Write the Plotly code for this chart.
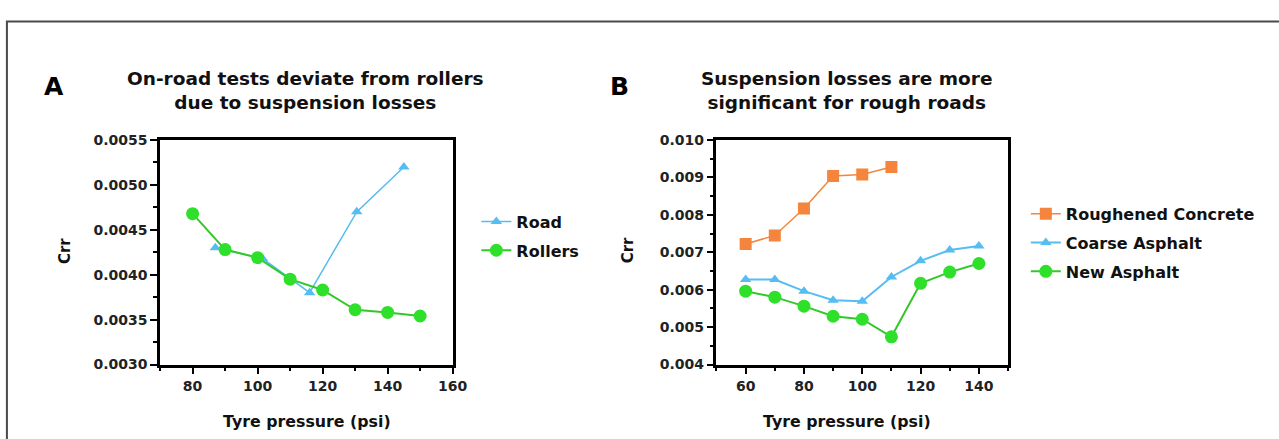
import plotly.graph_objects as go

# Panel A data
road_x = [87, 101.5, 116, 130.5, 145]
road_y = [0.0043, 0.00418, 0.0038, 0.0047, 0.0052]
rollers_x = [80, 90, 100, 110, 120, 130, 140, 150]
rollers_y = [0.00468, 0.00428, 0.00419, 0.00395, 0.00383, 0.00361, 0.00358, 0.00354]

# Panel B data
b_x = [60, 70, 80, 90, 100, 110, 120, 130, 140]
concrete_y = [0.00722, 0.00745, 0.00817, 0.00904, 0.00908, 0.00928]
coarse_y = [0.00627, 0.00627, 0.00596, 0.00572, 0.00569, 0.00634, 0.00677, 0.00706, 0.00717]
new_y = [0.00596, 0.0058, 0.00556, 0.00529, 0.00521, 0.00474, 0.00617, 0.00647, 0.0067]

titles = ["On-road tests deviate from rollers<br>due to suspension losses",
          "Suspension losses are more<br>significant for rough roads"]
panel_labels = ["A", "B"]
x_title = "Tyre pressure (psi)"
y_title = "Crr"

W, H = 1279, 439
FONT = "DejaVu Sans, Liberation Sans, Arial, sans-serif"
BLUE = "#55BDF2"
GREEN = "#2EE02A"
LINEGREEN = "#33C82A"
ORANGE = "#F5843C"


def px(x):
    return x / W


def py(y):
    return 1 - y / H


fig = go.Figure()

fig.add_trace(go.Scatter(x=road_x, y=road_y, name="Road", mode="lines+markers",
                         line=dict(color=BLUE, width=1.5),
                         marker=dict(symbol="triangle-up", size=10, color=BLUE),
                         xaxis="x", yaxis="y", legend="legend", legendgroup="a1"))
fig.add_trace(go.Scatter(x=rollers_x, y=rollers_y, name="Rollers", mode="lines+markers",
                         line=dict(color=LINEGREEN, width=2),
                         marker=dict(symbol="circle", size=13, color=GREEN),
                         xaxis="x", yaxis="y", legend="legend", legendgroup="a2"))

fig.add_trace(go.Scatter(x=b_x[:len(concrete_y)], y=concrete_y, name="Roughened Concrete",
                         mode="lines+markers", line=dict(color=ORANGE, width=1.5),
                         marker=dict(symbol="square", size=12, color=ORANGE),
                         xaxis="x2", yaxis="y2", legend="legend2", legendgroup="b1"))
fig.add_trace(go.Scatter(x=b_x, y=coarse_y, name="Coarse Asphalt", mode="lines+markers",
                         line=dict(color=BLUE, width=2),
                         marker=dict(symbol="triangle-up", size=10, color=BLUE),
                         xaxis="x2", yaxis="y2", legend="legend2", legendgroup="b2"))
fig.add_trace(go.Scatter(x=b_x, y=new_y, name="New Asphalt", mode="lines+markers",
                         line=dict(color=LINEGREEN, width=2),
                         marker=dict(symbol="circle", size=13, color=GREEN),
                         xaxis="x2", yaxis="y2", legend="legend2", legendgroup="b3"))

ydom = [py(370), py(137)]
tickfont = dict(family=FONT, size=14, color="#222", weight="bold")


def xaxis(dom, rng, dtick, anchor):
    return dict(domain=dom, range=rng, dtick=dtick, tick0=0, showgrid=False, zeroline=False,
                showline=True, linecolor="black", linewidth=2.5, mirror=True,
                ticks="outside", ticklen=7, tickwidth=2, tickcolor="black",
                tickfont=tickfont, anchor=anchor,
                minor=dict(dtick=dtick / 2, ticks="outside", ticklen=4, tickwidth=2,
                           tickcolor="black"))


def yaxis(rng, dtick, fmt, anchor):
    return dict(domain=ydom, range=rng, dtick=dtick, tick0=0, tickformat=fmt, showgrid=False,
                zeroline=False, showline=True, linecolor="black", linewidth=2.5, mirror=True,
                ticks="outside", ticklen=7, tickwidth=2, tickcolor="black",
                tickfont=tickfont, anchor=anchor,
                minor=dict(dtick=dtick / 2, ticks="outside", ticklen=4, tickwidth=2,
                           tickcolor="black"))


legfont = dict(family=FONT, size=16, color="#111", weight="bold")
fig.update_layout(
    width=W, height=H, margin=dict(l=0, r=0, t=0, b=0),
    paper_bgcolor="white", plot_bgcolor="white",
    font=dict(family=FONT, color="#111"),
    xaxis=xaxis([px(162), px(458)], [70, 160], 20, "y"),
    yaxis=yaxis([0.003, 0.0055], 0.0005, ".4f", "x"),
    xaxis2=xaxis([px(725), px(1020)], [50, 150], 20, "y2"),
    yaxis2=yaxis([0.004, 0.010], 0.001, ".3f", "x2"),
    legend=dict(x=px(482), y=py(204), xanchor="left", yanchor="top", font=legfont,
                bgcolor="rgba(0,0,0,0)", itemwidth=30, tracegroupgap=5),
    legend2=dict(x=px(1038), y=py(196), xanchor="left", yanchor="top", font=legfont,
                 bgcolor="rgba(0,0,0,0)", itemwidth=30, tracegroupgap=5),
    showlegend=True,
)

ann = []
for lab, (lx, ly) in zip(panel_labels, [(55, 81), (627, 81)]):
    ann.append(dict(text=lab, x=px(lx), y=py(ly), xref="paper", yref="paper",
                    xanchor="center", yanchor="middle", showarrow=False,
                    font=dict(family=FONT, size=25, color="black", weight="bold")))
for t, cx in zip(titles, [309, 857]):
    ann.append(dict(text=t, x=px(cx), y=py(86), xref="paper", yref="paper",
                    xanchor="center", yanchor="middle", showarrow=False,
                    font=dict(family=FONT, size=18.5, color="#111", weight="bold")))
for cx in [311, 857]:
    ann.append(dict(text=x_title, x=px(cx), y=py(429), xref="paper", yref="paper",
                    xanchor="center", yanchor="middle", showarrow=False,
                    font=dict(family=FONT, size=15.8, color="#111", weight="bold")))
for cx in [66, 635]:
    ann.append(dict(text=y_title, x=px(cx), y=py(252), xref="paper", yref="paper",
                    xanchor="center", yanchor="middle", showarrow=False, textangle=-90,
                    font=dict(family=FONT, size=15, color="#111", weight="bold")))
fig.update_layout(annotations=ann)

fig.add_shape(type="rect", xref="paper", yref="paper", x0=px(7), x1=1.05, y0=-0.05, y1=py(14),
              line=dict(color="#4a4a4a", width=2), fillcolor="rgba(0,0,0,0)", layer="below")

fig.write_html("out.html", config={"displayModeBar": False},
               post_script="document.body.style.margin='0';document.body.style.overflow='hidden';"
                           "document.documentElement.style.overflow='hidden';")
